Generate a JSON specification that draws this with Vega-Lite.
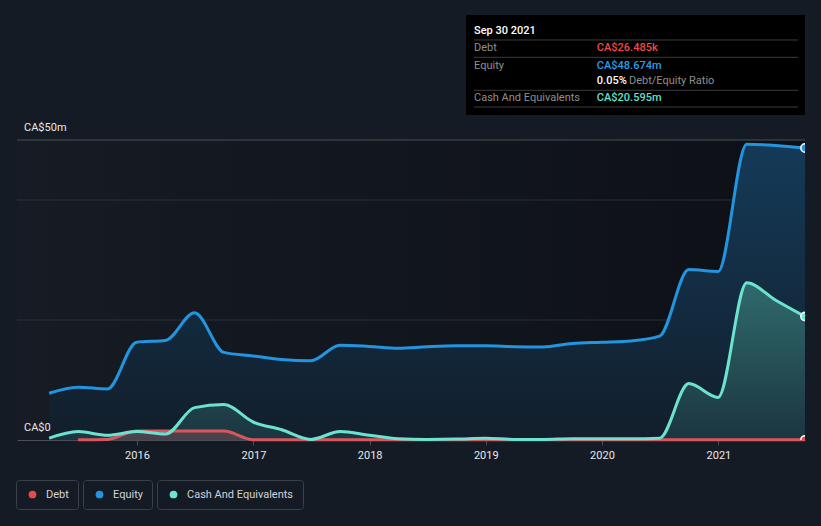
{
  "$schema": "https://vega.github.io/schema/vega-lite/v6.json",
  "background": "#151b24",
  "autosize": {"type": "none"},
  "padding": {"left": 17, "top": 10, "right": 16, "bottom": 86},
  "width": 788,
  "height": 430,
  "config": {"view": {"stroke": null}, "font": "Roboto"},
  "datasets": {
    "equity": [
      {"date": "2015-03-31", "v": 7.8}, {"date": "2015-06-30", "v": 8.8}, {"date": "2015-09-30", "v": 8.5},
      {"date": "2015-12-31", "v": 16.3}, {"date": "2016-03-31", "v": 16.6}, {"date": "2016-06-30", "v": 21.2},
      {"date": "2016-09-30", "v": 14.6}, {"date": "2016-12-31", "v": 14.0}, {"date": "2017-03-31", "v": 13.4},
      {"date": "2017-06-30", "v": 13.2}, {"date": "2017-09-30", "v": 15.8}, {"date": "2017-12-31", "v": 15.6},
      {"date": "2018-03-31", "v": 15.3}, {"date": "2018-06-30", "v": 15.55}, {"date": "2018-09-30", "v": 15.7},
      {"date": "2018-12-31", "v": 15.7}, {"date": "2019-03-31", "v": 15.55}, {"date": "2019-06-30", "v": 15.5},
      {"date": "2019-09-30", "v": 16.1}, {"date": "2019-12-31", "v": 16.3}, {"date": "2020-03-31", "v": 16.5},
      {"date": "2020-06-30", "v": 17.3}, {"date": "2020-09-30", "v": 28.4}, {"date": "2020-12-31", "v": 28.1},
      {"date": "2021-03-31", "v": 49.3}, {"date": "2021-06-30", "v": 49.1}, {"date": "2021-09-30", "v": 48.674}
    ],
    "cash": [
      {"date": "2015-03-31", "v": 0.3}, {"date": "2015-06-30", "v": 1.4}, {"date": "2015-09-30", "v": 0.8},
      {"date": "2015-12-31", "v": 1.4}, {"date": "2016-03-31", "v": 1.0}, {"date": "2016-06-30", "v": 5.4},
      {"date": "2016-09-30", "v": 5.9}, {"date": "2016-12-31", "v": 3.0}, {"date": "2017-03-31", "v": 1.7},
      {"date": "2017-06-30", "v": 0.1}, {"date": "2017-09-30", "v": 1.4}, {"date": "2017-12-31", "v": 0.8},
      {"date": "2018-03-31", "v": 0.2}, {"date": "2018-06-30", "v": 0.1}, {"date": "2018-09-30", "v": 0.15},
      {"date": "2018-12-31", "v": 0.3}, {"date": "2019-03-31", "v": 0.1}, {"date": "2019-06-30", "v": 0.1},
      {"date": "2019-09-30", "v": 0.2}, {"date": "2019-12-31", "v": 0.2}, {"date": "2020-03-31", "v": 0.2},
      {"date": "2020-06-30", "v": 0.3}, {"date": "2020-09-30", "v": 9.4}, {"date": "2020-12-31", "v": 7.1},
      {"date": "2021-03-31", "v": 26.2}, {"date": "2021-06-30", "v": 23.3}, {"date": "2021-09-30", "v": 20.595}
    ],
    "debt": [
      {"date": "2015-06-30", "v": 0.05}, {"date": "2015-09-30", "v": 0.1},
      {"date": "2015-12-31", "v": 1.5}, {"date": "2016-03-31", "v": 1.5}, {"date": "2016-06-30", "v": 1.5},
      {"date": "2016-09-30", "v": 1.5}, {"date": "2016-12-31", "v": 0.05}, {"date": "2017-03-31", "v": 0.05},
      {"date": "2017-06-30", "v": 0.05}, {"date": "2017-09-30", "v": 0.05}, {"date": "2017-12-31", "v": 0.05},
      {"date": "2018-03-31", "v": 0.05}, {"date": "2018-06-30", "v": 0.04}, {"date": "2018-09-30", "v": 0.04},
      {"date": "2018-12-31", "v": 0.04}, {"date": "2019-03-31", "v": 0.04}, {"date": "2019-06-30", "v": 0.04},
      {"date": "2019-09-30", "v": 0.04}, {"date": "2019-12-31", "v": 0.04}, {"date": "2020-03-31", "v": 0.03},
      {"date": "2020-06-30", "v": 0.03}, {"date": "2020-09-30", "v": 0.03}, {"date": "2020-12-31", "v": 0.03},
      {"date": "2021-03-31", "v": 0.03}, {"date": "2021-06-30", "v": 0.03}, {"date": "2021-09-30", "v": 0.026485}
    ],
    "ends": [
      {"date": "2021-09-30", "series": "Debt", "v": 0.026485},
      {"date": "2021-09-30", "series": "Equity", "v": 48.674},
      {"date": "2021-09-30", "series": "Cash And Equivalents", "v": 20.595}
    ],
    "grid": [{"v": 20}, {"v": 40}],
    "gridTop": [{"v": 50}],
    "plotBg": [{"date": "2014-12-20", "date2": "2021-09-30", "v": 0, "v2": 50}],
    "ylabels": [{"date": "2014-12-20", "v": 50, "t": "CA$50m"}, {"date": "2014-12-20", "v": 0, "t": "CA$0"}],
    "tipBox": [{"date": "2018-10-31", "date2": "2021-09-30", "v": 54.17, "v2": 70.83}],
    "tipSep": [
      {"date": "2018-11-25", "date2": "2021-09-08", "v": 66.67},
      {"date": "2018-11-25", "date2": "2021-09-08", "v": 63.78},
      {"date": "2018-11-25", "date2": "2021-09-08", "v": 58.28},
      {"date": "2018-11-25", "date2": "2021-09-08", "v": 55.5}
    ],
    "tipText": [
      {"date": "2018-11-25", "v": 65.28, "t": "Debt", "role": "label"},
      {"date": "2018-11-25", "v": 62.38, "t": "Equity", "role": "label"},
      {"date": "2018-11-25", "v": 57.05, "t": "Cash And Equivalents", "role": "label"},
      {"date": "2020-03-26", "v": 59.78, "t": "Debt/Equity Ratio", "role": "label"}
    ],
    "tipBold": [
      {"date": "2018-11-25", "v": 68.22, "t": "Sep 30 2021", "role": "title"},
      {"date": "2019-12-16", "v": 65.28, "t": "CA$26.485k", "role": "debt"},
      {"date": "2019-12-16", "v": 62.38, "t": "CA$48.674m", "role": "equity"},
      {"date": "2019-12-16", "v": 59.78, "t": "0.05%", "role": "ratio"},
      {"date": "2019-12-16", "v": 57.05, "t": "CA$20.595m", "role": "cash"}
    ]
  },
  "encoding": {
    "y": {"field": "v", "type": "quantitative", "scale": {"domain": [0, 71.667], "nice": false, "zero": false}, "axis": null}
  },
  "resolve": {"scale": {"color": "independent"}, "legend": {"color": "independent"}},
  "layer": [
    {
      "data": {"name": "plotBg"},
      "mark": {"type": "rect", "fill": {"gradient": "linear", "x1": 0, "y1": 0, "x2": 1, "y2": 0, "stops": [{"offset": 0, "color": "#161b24"}, {"offset": 1, "color": "#0d1016"}]}},
      "encoding": {
        "x": {"field": "date", "type": "temporal", "scale": {"type": "utc", "domain": [1419033600000, 1632960000000]},
          "axis": {"title": null, "values": [1451606400000, 1483228800000, 1514764800000, 1546300800000, 1577836800000, 1609459200000], "format": "%Y", "grid": false, "domainColor": "#4a4f57", "domainWidth": 1, "tickColor": "#4a4f57", "tickSize": 5, "labelColor": "#e6e8eb", "labelFontSize": 11, "labelPadding": 4, "labelFont": "Roboto"}},
        "x2": {"field": "date2"},
        "y2": {"field": "v2"}
      }
    },
    {
      "data": {"name": "grid"},
      "mark": {"type": "rule", "color": "#2b3038", "strokeWidth": 1},
      "encoding": {}
    },
    {
      "data": {"name": "gridTop"},
      "mark": {"type": "rule", "color": "#4b5058", "strokeWidth": 1},
      "encoding": {}
    },
    {
      "data": {"name": "equity"},
      "mark": {"type": "area", "interpolate": "monotone", "fill": {"gradient": "linear", "x1": 0, "y1": 0, "x2": 0, "y2": 1, "stops": [{"offset": 0, "color": "#143a58"}, {"offset": 1, "color": "#121e2b"}]}},
      "encoding": {
        "x": {"field": "date", "type": "temporal", "scale": {"type": "utc", "domain": [1419033600000, 1632960000000]}},
        "y2": {"datum": 0}
      }
    },
    {
      "data": {"name": "cash"},
      "mark": {"type": "area", "interpolate": "monotone", "fill": {"gradient": "linear", "x1": 0, "y1": 0, "x2": 0, "y2": 1, "stops": [{"offset": 0, "color": "#2f6a6c"}, {"offset": 1, "color": "#1b3540"}]}},
      "encoding": {
        "x": {"field": "date", "type": "temporal", "scale": {"type": "utc", "domain": [1419033600000, 1632960000000]}},
        "y2": {"datum": 0}
      }
    },
    {
      "data": {"name": "debt"},
      "mark": {"type": "area", "interpolate": "monotone", "fill": "#6a4a55", "opacity": 0.6},
      "encoding": {
        "x": {"field": "date", "type": "temporal", "scale": {"type": "utc", "domain": [1419033600000, 1632960000000]}},
        "y2": {"datum": 0}
      }
    },
    {
      "data": {"name": "equity"},
      "mark": {"type": "line", "interpolate": "monotone", "color": "#2394df", "strokeWidth": 3},
      "encoding": {
        "x": {"field": "date", "type": "temporal", "scale": {"type": "utc", "domain": [1419033600000, 1632960000000]}}
      }
    },
    {
      "data": {"name": "debt"},
      "mark": {"type": "line", "interpolate": "monotone", "color": "#d9575c", "strokeWidth": 3},
      "encoding": {
        "x": {"field": "date", "type": "temporal", "scale": {"type": "utc", "domain": [1419033600000, 1632960000000]}}
      }
    },
    {
      "data": {"name": "cash"},
      "mark": {"type": "line", "interpolate": "monotone", "color": "#6ce3d0", "strokeWidth": 3},
      "encoding": {
        "x": {"field": "date", "type": "temporal", "scale": {"type": "utc", "domain": [1419033600000, 1632960000000]}}
      }
    },
    {
      "data": {"name": "ends"},
      "transform": [{"filter": "datum.series == 'Debt'"}],
      "mark": {"type": "point", "filled": true, "size": 70, "opacity": 1, "stroke": "#ffffff", "strokeWidth": 1.5, "clip": true},
      "encoding": {
        "x": {"field": "date", "type": "temporal", "scale": {"type": "utc", "domain": [1419033600000, 1632960000000]}},
        "color": {"field": "series", "type": "nominal", "scale": {"domain": ["Debt"], "range": ["#e84a4a"]},
          "legend": {"orient": "none", "legendX": -1, "legendY": 470, "title": null, "symbolType": "circle", "symbolSize": 60, "symbolStrokeWidth": 0, "symbolOffset": 2, "labelColor": "#d0d4d9", "labelFontSize": 11, "labelFont": "Roboto", "labelOffset": 8, "padding": 9, "strokeColor": "#3a4049", "cornerRadius": 3}}
      }
    },
    {
      "data": {"name": "ends"},
      "transform": [{"filter": "datum.series == 'Equity'"}],
      "mark": {"type": "point", "filled": true, "size": 70, "opacity": 1, "stroke": "#ffffff", "strokeWidth": 1.5, "clip": true},
      "encoding": {
        "x": {"field": "date", "type": "temporal", "scale": {"type": "utc", "domain": [1419033600000, 1632960000000]}},
        "color": {"field": "series", "type": "nominal", "scale": {"domain": ["Equity"], "range": ["#2394df"]},
          "legend": {"orient": "none", "legendX": 66, "legendY": 470, "title": null, "symbolType": "circle", "symbolSize": 60, "symbolStrokeWidth": 0, "symbolOffset": 2, "labelColor": "#d0d4d9", "labelFontSize": 11, "labelFont": "Roboto", "labelOffset": 8, "padding": 9, "strokeColor": "#3a4049", "cornerRadius": 3}}
      }
    },
    {
      "data": {"name": "ends"},
      "transform": [{"filter": "datum.series == 'Cash And Equivalents'"}],
      "mark": {"type": "point", "filled": true, "size": 70, "opacity": 1, "stroke": "#ffffff", "strokeWidth": 1.5, "clip": true},
      "encoding": {
        "x": {"field": "date", "type": "temporal", "scale": {"type": "utc", "domain": [1419033600000, 1632960000000]}},
        "color": {"field": "series", "type": "nominal", "scale": {"domain": ["Cash And Equivalents"], "range": ["#6ce5d2"]},
          "legend": {"orient": "none", "legendX": 140, "legendY": 470, "title": null, "symbolType": "circle", "symbolSize": 60, "symbolStrokeWidth": 0, "symbolOffset": 2, "labelColor": "#d0d4d9", "labelFontSize": 11, "labelFont": "Roboto", "labelOffset": 8, "padding": 9, "strokeColor": "#3a4049", "cornerRadius": 3}}
      }
    },
    {
      "data": {"name": "ylabels"},
      "mark": {"type": "text", "align": "left", "baseline": "alphabetic", "dx": 7, "dy": -9, "fontSize": 11, "color": "#e6e8eb"},
      "encoding": {
        "x": {"field": "date", "type": "temporal", "scale": {"type": "utc", "domain": [1419033600000, 1632960000000]}},
        "text": {"field": "t"}
      }
    },
    {
      "data": {"name": "tipBox"},
      "mark": {"type": "rect", "fill": "#000000"},
      "encoding": {
        "x": {"field": "date", "type": "temporal", "scale": {"type": "utc", "domain": [1419033600000, 1632960000000]}},
        "x2": {"field": "date2"},
        "y2": {"field": "v2"}
      }
    },
    {
      "data": {"name": "tipSep"},
      "mark": {"type": "rule", "color": "#3c3c3c", "strokeWidth": 1},
      "encoding": {
        "x": {"field": "date", "type": "temporal", "scale": {"type": "utc", "domain": [1419033600000, 1632960000000]}},
        "x2": {"field": "date2"}
      }
    },
    {
      "data": {"name": "tipText"},
      "mark": {"type": "text", "align": "left", "baseline": "middle", "fontSize": 11, "color": "#8f8f8f"},
      "encoding": {
        "x": {"field": "date", "type": "temporal", "scale": {"type": "utc", "domain": [1419033600000, 1632960000000]}},
        "text": {"field": "t"}
      }
    },
    {
      "data": {"name": "tipBold"},
      "mark": {"type": "text", "align": "left", "baseline": "middle", "fontSize": 11, "fontWeight": 500},
      "encoding": {
        "x": {"field": "date", "type": "temporal", "scale": {"type": "utc", "domain": [1419033600000, 1632960000000]}},
        "text": {"field": "t"},
        "color": {"field": "role", "type": "nominal", "scale": {"domain": ["title", "debt", "equity", "ratio", "cash"], "range": ["#ffffff", "#f04848", "#2a9de8", "#ffffff", "#62e0cc"]}, "legend": null}
      }
    }
  ]
}
